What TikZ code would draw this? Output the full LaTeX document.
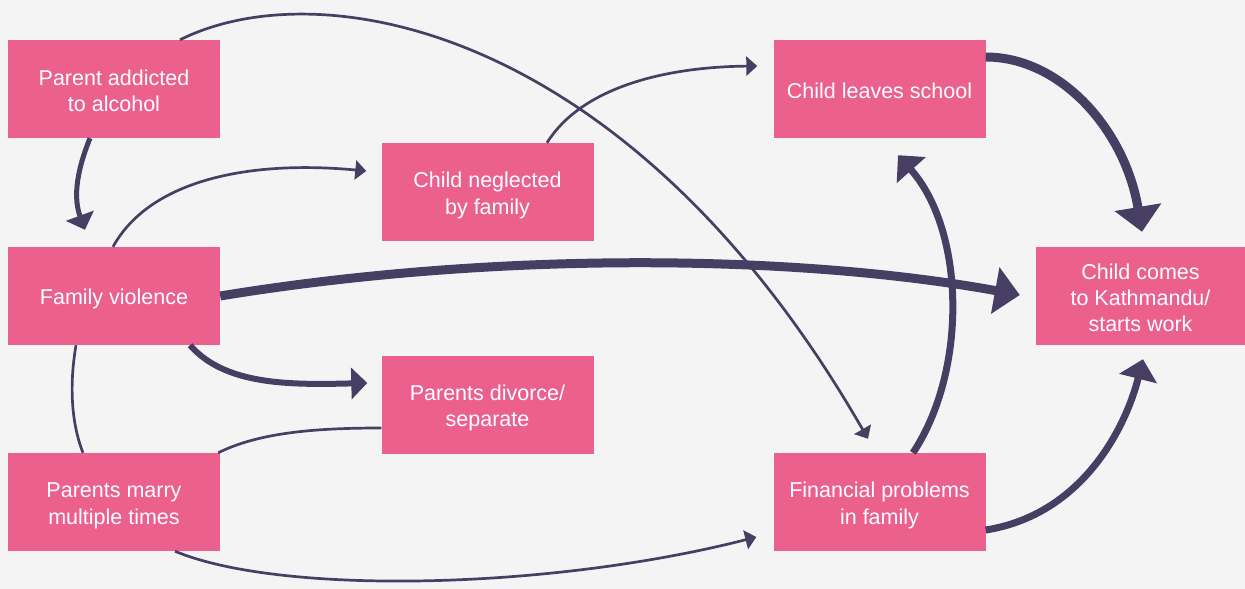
\documentclass[tikz,border=0pt]{standalone}
\usepackage{fontspec}
\setmainfont{Liberation Sans}
\usetikzlibrary{arrows.meta,calc}
\definecolor{boxpink}{HTML}{EB608D}
\definecolor{linkdark}{HTML}{473F63}
\definecolor{paper}{HTML}{F4F4F4}
% fixed line box for every text line: 22pt above, 4pt below the baseline
\newcommand\fstrut{\rule[-4pt]{0pt}{26pt}}
\tikzset{
  factor/.style={fill=boxpink, text=white, minimum width=212pt, minimum height=98pt,
    inner sep=0pt, align=center, font=\fontsize{21.5}{26}\selectfont},
  link/.style={draw=linkdark, line width=2.7pt,
    -{Triangle[length=11pt,width=19pt]}},
  plainlink/.style={draw=linkdark, line width=2.7pt},
  medlink/.style={draw=linkdark, line width=5pt,
    -{Triangle[length=15pt,width=29pt]}},
  midlink/.style={draw=linkdark, line width=6pt,
    -{Triangle[length=16pt,width=31pt]}},
  stronglink/.style={draw=linkdark, line width=7pt,
    -{Triangle[length=20pt,width=38pt]}},
  heavylink/.style={draw=linkdark, line width=9pt,
    -{Triangle[length=25pt,width=46pt]}},
}
\begin{document}
\begin{tikzpicture}[x=1pt,y=-1pt]
  \fill[paper] (0,0) rectangle (1245,589);
  \useasboundingbox (0,0) rectangle (1245,589);

  % causes and effects
  \node[factor] (A)  at (114,89)    {\fstrut Parent addicted\\\fstrut to alcohol};
  \node[factor] (FV) at (114,296)   {\fstrut Family violence};
  \node[factor] (PM) at (114,502)   {\fstrut Parents marry\\\fstrut multiple times};
  \node[factor] (CN) at (487.5,192) {\fstrut Child neglected\\\fstrut by family};
  \node[factor] (PD) at (487.5,405) {\fstrut Parents divorce/\\\fstrut separate};
  \node[factor] (CL) at (879.5,89)  {\fstrut Child leaves school};
  \node[factor] (FP) at (879.5,502) {\fstrut Financial problems\\\fstrut in family};
  \node[factor, minimum width=209pt] (CC) at (1140.5,296)
    {\fstrut Child comes\\\fstrut to Kathmandu/\\\fstrut starts work};

  % links between them
  \draw[medlink] ($(A.south)+(-24,0)$) .. controls +(-15,37) and +(-11,-30) .. ($(FV.north)+(-29,-17)$);
  \draw[link] ($(FV.north)+(-1,0)$) .. controls +(37,-67) and +(-117,-11) .. ($(CN.west)+(-15,-21)$);
  \draw[link] ($(A.north)+(66,0)$) .. controls +(140,-70) and +(-238,-414) .. ($(FP.north)+(-11.5,-14)$);
  \draw[heavylink] (FV.east) .. controls +(280,-46) and +(-220,-40) .. ($(CC.west)+(-16,-1)$);
  \draw[midlink] ($(FV.south)+(76,0)$) .. controls +(35,40) and +(-78,2) .. ($(PD.west)+(-14,-22)$);
  \draw[plainlink] ($(PM.north)+(-31,0)$) .. controls +(-13,-33) and +(-6,35) .. ($(FV.south)+(-38,0)$);
  \draw[plainlink] ($(PM.north east)+(-2,0)$) .. controls +(42,-21) and +(-62,0) .. ($(PD.west)+(0,23)$);
  \draw[link] ($(PM.south)+(61,0)$) .. controls +(105,44) and +(-207,53) .. ($(FP.west)+(-17,35)$);
  \draw[link] ($(CN.north)+(59.5,0)$) .. controls +(33,-53) and +(-98,1) .. ($(CL.west)+(-16,-23)$);
  \draw[stronglink] ($(FP.north)+(33.5,0)$) .. controls +(55,-83) and +(67,75) .. ($(CL.south)+(18.5,17)$);
  \draw[stronglink] ($(FP.east)+(0,28)$) .. controls +(95,-15) and +(-18,71) .. ($(CC.south)+(2.5,14)$);
  \draw[heavylink] ($(CL.east)+(0,-32)$) .. controls +(75,0) and +(-17,-102) .. ($(CC.north)+(1.5,-15)$);
\end{tikzpicture}
\end{document}
